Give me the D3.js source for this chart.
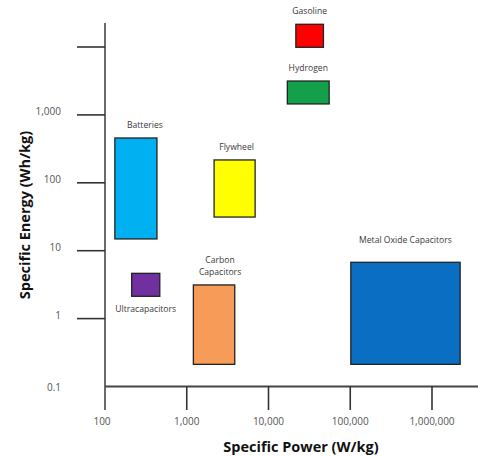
<!DOCTYPE html>
<html>

<head>
  <meta charset="utf-8" />
  <title>Energy storage - specific power vs specific energy</title>
  <style>
    body {
      margin: 0;
      background: #fff;
    }

    svg text {
      font-family: "Open Sans", "DejaVu Sans", sans-serif;
    }

    .tick-label {
      font-size: 10px;
      fill: #555;
    }

    .box-label {
      font-size: 8.6px;
      fill: #3a3a3a;
    }

    .axis-title {
      font-size: 14.5px;
      font-weight: bold;
      fill: #111;
    }
  </style>
  <script src="https://cdnjs.cloudflare.com/ajax/libs/d3/7.8.5/d3.min.js"></script>
</head>

<body>
  <div id="chartArea"></div>
  <script>
    // data
    var names = ['Gasoline', 'Hydrogen', 'Batteries', 'Flywheel', 'Ultracapacitors', 'Carbon Capacitors', 'Metal Oxide Capacitors'];
    var powerMin = [21600, 17000, 132, 2160, 212, 1205, 101600];
    var powerMax = [47000, 55200, 432, 6860, 468, 3865, 2210000];
    var energyMin = [9900, 1450, 14.9, 31.3, 2.13, 0.212, 0.212];
    var energyMax = [21600, 3155, 457, 217, 4.64, 3.13, 6.75];
    var colors = ['#ff0000', '#13a04a', '#00b0f0', '#ffff00', '#7030a0', '#f79b58', '#0a6fc2'];

    var xTicks = [100, 1000, 10000, 100000, 1000000];
    var xTickLabels = ['100', '1,000', '10,000', '100,000', '1,000,000'];
    var yTicks = [0.1, 1, 10, 100, 1000, 10000];
    var yTickLabels = ['0.1', '1', '10', '100', '1,000', ''];

    var W = 478, H = 456;
    var x0 = 105, y0 = 386.5;

    var xScale = d3.scaleLog()
      .domain([100, 1000000])
      .range([x0, 432]);

    var yScale = d3.scaleLog()
      .domain([0.1, 10000])
      .range([y0, 47]);

    var dataset = names.map(function (n, i) {
      return {
        name: n,
        p0: powerMin[i], p1: powerMax[i],
        e0: energyMin[i], e1: energyMax[i],
        color: colors[i]
      };
    });

    // label placement tweaks (layout only)
    var labelBelow = { 'Ultracapacitors': true };
    var labelDx = { 'Batteries': 9, 'Carbon Capacitors': 6, 'Flywheel': 2 };
    var labelGap = { 'Metal Oxide Capacitors': 19 };

    var svg = d3.select('#chartArea').append('svg')
      .attr('width', W)
      .attr('height', H);

    // axes
    var axes = svg.append('g');
    axes.append('line')
      .attr('x1', x0).attr('x2', x0)
      .attr('y1', 23).attr('y2', 410)
      .attr('stroke', '#6b6b6b').attr('stroke-width', 2);
    axes.append('line')
      .attr('x1', x0).attr('x2', W)
      .attr('y1', y0).attr('y2', y0)
      .attr('stroke', '#444').attr('stroke-width', 2);

    axes.selectAll('.xtick')
      .data(xTicks.slice(1))
      .enter().append('line')
      .attr('class', 'xtick')
      .attr('x1', d => xScale(d)).attr('x2', d => xScale(d))
      .attr('y1', y0).attr('y2', 410)
      .attr('stroke', '#333').attr('stroke-width', 1.6);

    axes.selectAll('.ytick')
      .data(yTicks.slice(1))
      .enter().append('line')
      .attr('class', 'ytick')
      .attr('x1', 77).attr('x2', x0)
      .attr('y1', d => yScale(d)).attr('y2', d => yScale(d))
      .attr('stroke', '#333').attr('stroke-width', 1.6);

    axes.selectAll('.xlabel')
      .data(xTicks)
      .enter().append('text')
      .attr('class', 'tick-label')
      .attr('x', (d, i) => i === 0 ? xScale(d) - 3 : xScale(d))
      .attr('y', 425)
      .attr('text-anchor', 'middle')
      .text((d, i) => xTickLabels[i]);

    axes.selectAll('.ylabel')
      .data(yTicks)
      .enter().append('text')
      .attr('class', 'tick-label')
      .attr('x', 61)
      .attr('y', d => yScale(d) + (d === 0.1 ? 4 : 0))
      .attr('text-anchor', 'end')
      .text((d, i) => yTickLabels[i]);

    svg.append('text')
      .attr('class', 'axis-title')
      .attr('x', 301).attr('y', 452)
      .attr('text-anchor', 'middle')
      .text('Specific Power (W/kg)');

    svg.append('text')
      .attr('class', 'axis-title')
      .attr('transform', 'translate(30,215) rotate(-90)')
      .attr('text-anchor', 'middle')
      .text('Specific Energy (Wh/kg)');

    // boxes
    svg.selectAll('rect.box')
      .data(dataset)
      .enter().append('rect')
      .attr('class', 'box')
      .attr('x', d => xScale(d.p0))
      .attr('y', d => yScale(d.e1))
      .attr('width', d => xScale(d.p1) - xScale(d.p0))
      .attr('height', d => yScale(d.e0) - yScale(d.e1))
      .attr('fill', d => d.color)
      .attr('stroke', '#222')
      .attr('stroke-width', 1.3);

    var labels = svg.selectAll('text.box-label')
      .data(dataset)
      .enter().append('text')
      .attr('class', 'box-label')
      .attr('text-anchor', 'middle')
      .attr('x', d => (xScale(d.p0) + xScale(d.p1)) / 2 + (labelDx[d.name] || 0))
      .attr('y', function (d) {
        if (labelBelow[d.name]) return yScale(d.e0) + 16;
        var lines = d.name === 'Carbon Capacitors' ? 2 : 1;
        return yScale(d.e1) - (labelGap[d.name] || 10) - (lines - 1) * 12;
      });

    labels.each(function (d) {
      var t = d3.select(this);
      if (d.name === 'Carbon Capacitors') {
        var cx = t.attr('x');
        t.append('tspan').attr('x', cx).text('Carbon');
        t.append('tspan').attr('x', cx).attr('dy', 12).text('Capacitors');
      } else {
        t.text(d.name);
      }
    });
  </script>
</body>

</html>
